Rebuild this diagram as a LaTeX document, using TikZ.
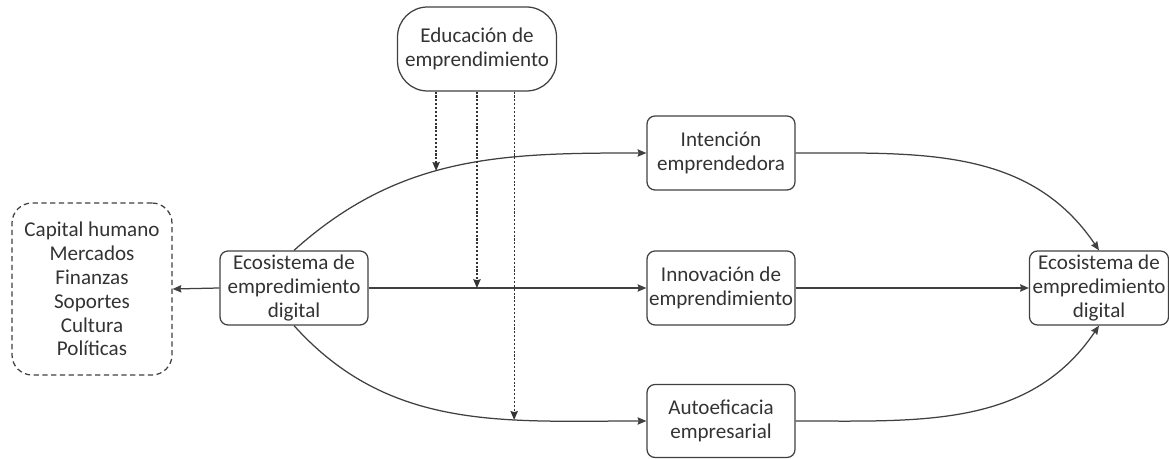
\documentclass[tikz,border=0pt]{standalone}
\usepackage{fontspec}
\setmainfont{Carlito}
\usetikzlibrary{arrows.meta}
\begin{document}
\begin{tikzpicture}[
        > = {Stealth[length = 5pt, width = 4.2pt, inset = 0.6pt]},
        x = 0.02cm, y = 0.02cm,
        line width = 0.25mm,
        every node/.style = {text = black!80, font = \fontsize{12}{13.6}\selectfont, align = center},
        box/.style = {draw = black!75, rounded corners = 0.16cm, minimum width = 2.96cm, minimum height = 1.48cm, inner sep = 1pt},
        link/.style = {->, draw = black!75},
        modlink/.style = {->, draw = black!80, line width = 0.25mm, dash pattern = on 1.2pt off 1pt}
    ]
        \useasboundingbox (0,0) rectangle (1169,459);
        % nodes
        \node[box, dash pattern = on 3pt off 2pt, minimum width = 3.2cm, minimum height = 3.44cm, rounded corners = 0.4cm] (factores) at (92,170) {Capital humano\\Mercados\\Finanzas\\Soportes\\Cultura\\Políticas};
        \node[box] (ecoL) at (294,171) {Ecosistema de\\empredimiento\\digital};
        \node[box, minimum width = 3.18cm, minimum height = 1.68cm, rounded corners = 0.6cm] (edu) at (477,410) {Educación de\\emprendimiento};
        \node[box] (inten) at (721,306) {Intención\\emprendedora};
        \node[box] (innov) at (721,171) {Innovación de\\emprendimiento};
        \node[box, minimum height = 1.46cm] (autoef) at (721,38) {Autoeficacia\\empresarial};
        \node[box, minimum width = 2.78cm, inner xsep = 0pt] (ecoR) at (1099,171) {Ecosistema de\\empredimiento\\digital};
        % links
        \draw[link] (ecoL.west) -- (factores.east);
        \draw[link] (ecoL.north) to[out = 42, in = 180] coordinate[pos = 0.44] (m1) (inten.west);
        \draw[link] (ecoL.east) -- coordinate[pos = 0.39] (m2) (innov.west);
        \draw[link] (ecoL.south) to[out = -48, in = 180] coordinate[pos = 0.67] (m3) (autoef.west);
        \draw[link] (inten.east) to[out = 0, in = 124] (ecoR.north);
        \draw[link] (innov.east) -- (ecoR.west);
        \draw[link] (autoef.east) to[out = 0, in = -124] (ecoR.south);
        % moderation
        \draw[modlink] (edu.south -| m1) -- (m1);
        \draw[modlink] (edu.south -| m2) -- (m2);
        \draw[modlink] (edu.south -| m3) -- (m3);
    \end{tikzpicture}
\end{document}
